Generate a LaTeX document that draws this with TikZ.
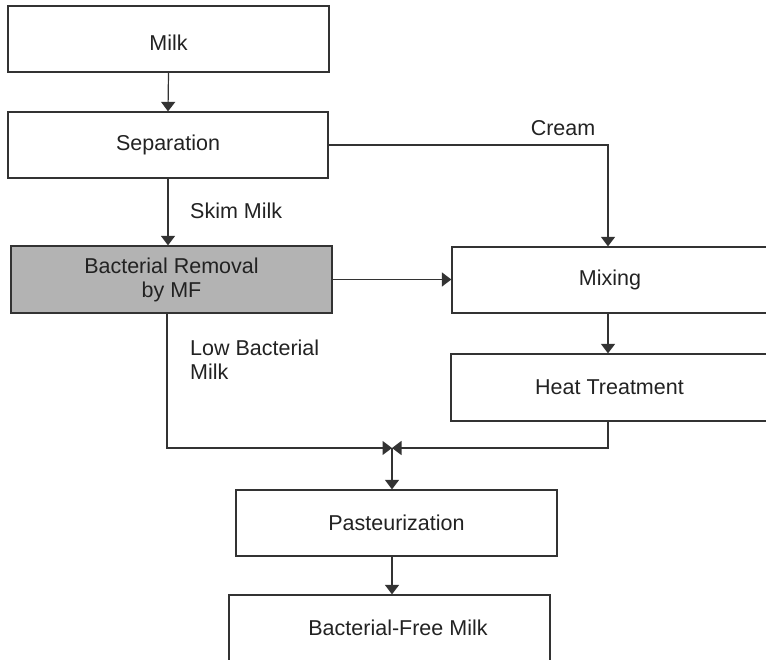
\documentclass[tikz,border=0pt]{standalone}
\usepackage{fontspec}
\setmainfont{Liberation Sans}
\usetikzlibrary{arrows.meta,calc}
\definecolor{linecol}{HTML}{333333}
\definecolor{textcol}{HTML}{222222}
\definecolor{shade}{HTML}{B3B3B3}
\begin{document}
\begin{tikzpicture}[x=1pt,y=-1pt,
  box/.style={draw=linecol, line width=1.2pt, minimum width=321pt, minimum height=66pt, inner sep=0pt, align=center, font=\fontsize{21.5}{24}\selectfont, text=textcol},
  conn/.style={draw=linecol, line width=1.2pt},
  arr/.style={conn, -{Triangle[length=9.5pt,width=14pt]}},
  lab/.style={font=\fontsize{21.5}{24}\selectfont, inner sep=0pt, text=textcol, align=left}]
\useasboundingbox (0,0) rectangle (766,660);
\clip (0,0) rectangle (766,660);
\node[box] (milk) at (168.5,39) {\raisebox{-4pt}[\height][0pt]{Milk}};
\node[box, minimum width=320pt] (sep) at (168,145) {Separation};
\node[box, fill=shade, minimum height=67pt] (br) at (171.5,279.5) {Bacterial Removal\\by MF};
\node[box, minimum width=316pt] (mix) at (610,280) {Mixing};
\node[box, minimum width=317pt, minimum height=67pt] (heat) at (609.5,387.5) {Heat Treatment};
\node[box] (past) at (396.5,523) {Pasteurization};
\node[box] (free) at (389.5,628) {\hspace*{17pt}Bacterial-Free Milk};
\coordinate (cx) at (608,0);
\coordinate (lx) at (167,0);
\coordinate (J) at (392,448);
\draw[arr] (milk.south) -- (sep.north);
\draw[arr] (sep.south) -- (sep.south |- br.north);
\node[lab, anchor=west] (skim) at (190,211) {Skim Milk};
\draw[arr] (sep.east) -| (cx |- mix.north);
\node[lab] (cream) at (563,128) {Cream};
\draw[arr] (br.east) -- (br.east -| mix.west);
\draw[arr] (cx |- mix.south) -- (cx |- heat.north);
\node[lab, anchor=west] (low) at (190,360) {Low Bacterial\\Milk};
\draw[arr] (lx |- br.south) |- (J);
\draw[arr] (cx |- heat.south) |- (J);
\draw[arr] (J) -- (J |- past.north);
\draw[arr] (J |- past.south) -- (J |- free.north);
\end{tikzpicture}
\end{document}
